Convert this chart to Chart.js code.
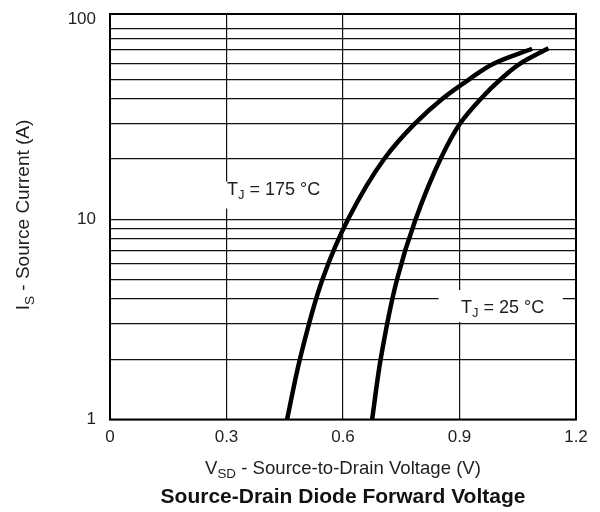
<!DOCTYPE html>
<html><head><meta charset="utf-8">
<script src="https://cdn.jsdelivr.net/npm/chart.js@4.4.1/dist/chart.umd.min.js"></script>
<style>html,body{margin:0;padding:0;background:#fff;}#wrap{width:600px;height:512px;position:relative;}</style>
</head><body><div id="wrap"><canvas id="c" width="600" height="512"></canvas></div>
<script>
// ---- data ----
const xTicks = [0, 0.3, 0.6, 0.9, 1.2];
const xTickLabels = ['0', '0.3', '0.6', '0.9', '1.2'];
const yTicks = [1, 2, 3, 4, 5, 6, 7, 8, 9, 10, 20, 30, 40, 50, 60, 70, 80, 90, 100];
const yTickLabels = {1: '1', 10: '10', 100: '100'};

const vsd175 = [0.456, 0.489, 0.547, 0.613, 0.706, 0.785, 0.856, 0.925, 0.989, 1.087];
const is175  = [1, 2, 5, 10, 20, 30, 40, 50, 60, 71];
const vsd25  = [0.675, 0.697, 0.739, 0.787, 0.851, 0.901, 0.955, 1.006, 1.057, 1.129];
const is25   = [1, 2, 5, 10, 20, 30, 40, 50, 60, 71.4];

const label175 = [['T', ''], ['J', 'sub'], [' = 175 °C', '']];
const label25  = [['T', ''], ['J', 'sub'], [' = 25 °C', '']];
const xTitle = [['V', ''], ['SD', 'sub'], [' - Source-to-Drain Voltage (V)', '']];
const yTitle = [['I', ''], ['S', 'sub'], [' - Source Current (A)', '']];
const chartTitle = 'Source-Drain Diode Forward Voltage';

// ---- rendering ----
const FONT = '"Liberation Sans", Arial, Helvetica, sans-serif';
const TXT = '#1e1e1e';

function segWidth(ctx, segs, size) {
  let w = 0;
  for (const [t, k] of segs) {
    ctx.font = (k === 'sub' ? size * 0.72 : size) + 'px ' + FONT;
    w += ctx.measureText(t).width;
  }
  return w;
}
function drawSegs(ctx, segs, x, y, size) {
  ctx.textBaseline = 'alphabetic';
  ctx.textAlign = 'left';
  for (const [t, k] of segs) {
    const s = k === 'sub' ? size * 0.72 : size;
    ctx.font = s + 'px ' + FONT;
    ctx.fillText(t, x, k === 'sub' ? y + size * 0.24 : y);
    x += ctx.measureText(t).width;
  }
}

const labelsPlugin = {
  id: 'labelsPlugin',
  beforeDatasetsDraw(chart) {
    const ctx = chart.ctx, xs = chart.scales.x, ys = chart.scales.y;
    ctx.save();
    // T_J = 175 label
    let x = xs.getPixelForValue(0.3) + 0.5, y = ys.getPixelForValue(13.2);
    let w = segWidth(ctx, label175, 18);
    ctx.fillStyle = '#fff';
    ctx.fillRect(x - 5, y - 13.5, w + 12, 27);
    ctx.fillStyle = TXT;
    drawSegs(ctx, label175, x, y, 18);
    // T_J = 25 label
    x = xs.getPixelForValue(0.904); y = ys.getPixelForValue(3.42);
    w = segWidth(ctx, label25, 18);
    ctx.fillStyle = '#fff';
    ctx.fillRect(x - 22.5, y - 22.5, w + 41, 32);
    ctx.fillStyle = TXT;
    drawSegs(ctx, label25, x, y, 18);
    ctx.restore();
  },
  afterDraw(chart) {
    const ctx = chart.ctx, a = chart.chartArea;
    ctx.save();
    ctx.strokeStyle = '#000';
    ctx.lineWidth = 2;
    ctx.strokeRect(a.left, a.top, a.right - a.left, a.bottom - a.top);
    ctx.fillStyle = TXT;
    // x title
    let w = segWidth(ctx, xTitle, 18.6);
    drawSegs(ctx, xTitle, (a.left + a.right) / 2 - w / 2, 474, 18.6);
    // y title
    w = segWidth(ctx, yTitle, 19);
    ctx.translate(29, 215);
    ctx.rotate(-Math.PI / 2);
    drawSegs(ctx, yTitle, -w / 2, 0, 19);
    ctx.restore();
  }
};

const mk = (vs, is) => vs.map((v, i) => ({x: v, y: is[i]}));

new Chart(document.getElementById('c'), {
  type: 'line',
  data: {
    datasets: [
      {label: 'TJ = 175 °C', data: mk(vsd175, is175), borderColor: '#000', borderWidth: 4.5,
       pointRadius: 0, cubicInterpolationMode: 'monotone', fill: false, clip: 0},
      {label: 'TJ = 25 °C', data: mk(vsd25, is25), borderColor: '#000', borderWidth: 4.5,
       pointRadius: 0, cubicInterpolationMode: 'monotone', fill: false, clip: 0}
    ]
  },
  options: {
    indexAxis: 'y',
    responsive: false,
    animation: false,
    events: [],
    layout: {padding: {top: 14, right: 24, left: 0, bottom: 0}},
    plugins: {
      legend: {display: false},
      tooltip: {enabled: false},
      title: {display: true, text: chartTitle, position: 'bottom', fullSize: false,
              color: '#111', font: {family: FONT, size: 21, weight: 'bold', lineHeight: 1.2},
              padding: {top: 0, bottom: 2}}
    },
    scales: {
      x: {
        type: 'linear', min: 0, max: 1.2,
        afterBuildTicks: s => { s.ticks = xTicks.map(v => ({value: v})); },
        afterFit: s => { s.height = 65.3; s.paddingLeft = 0; s.paddingRight = 0; },
        ticks: {callback: (v, i) => xTickLabels[i], color: TXT, padding: 8, autoSkip: false, maxRotation: 0,
                font: {family: FONT, size: 17}},
        grid: {color: '#111', lineWidth: 1.2, drawTicks: false},
        border: {display: false}
      },
      y: {
        type: 'logarithmic', min: 1, max: 105.9,
        afterBuildTicks: s => { s.ticks = yTicks.map(v => ({value: v})); },
        afterFit: s => { s.width = 110; s.paddingTop = 0; s.paddingBottom = 0; },
        ticks: {callback: v => yTickLabels[v] || '', color: TXT, padding: 14, autoSkip: false,
                font: {family: FONT, size: 17}},
        grid: {color: c => (c.tick && c.tick.value === 100) ? 'rgba(0,0,0,0)' : '#111', lineWidth: 1.2, drawTicks: false},
        border: {display: false}
      }
    }
  },
  plugins: [labelsPlugin]
});
</script>
</body></html>
